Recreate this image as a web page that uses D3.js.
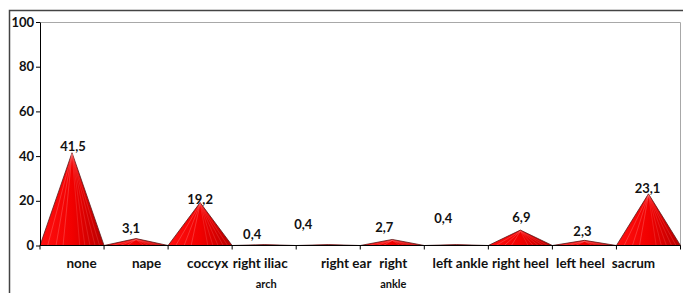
<!DOCTYPE html>
<html>
<head>
<meta charset="utf-8">
<script src="https://cdn.jsdelivr.net/npm/d3@7"></script>
<style>
  body { margin: 0; background: #fff; }
  svg { display: block; }
  text { font-family: Lato, "Open Sans", sans-serif; font-weight: bold; fill: #111; }
</style>
</head>
<body>
<svg id="chart" width="683" height="293"></svg>
<script>
// chart data
var categories = ['none', 'nape', 'coccyx', 'right iliac arch', 'right ear', 'right ankle', 'left ankle', 'right heel', 'left heel', 'sacrum'];
var values = [41.5, 3.1, 19.2, 0.4, 0.4, 2.7, 0.4, 6.9, 2.3, 23.1];
var yTicks = [0, 20, 40, 60, 80, 100];

// label nudges (the original puts some labels off-centre)
var nameShift = [9.5, 10.5, 7.5, -4, 18, 1, 4, 0, -4, -15];
var valueShiftX = [1, -5, 0, -12, -25, -8, -13, 1, -2, -1];
var valueShiftY = [-6, -10, -3, -10, -20, -12, -26, -13, -9, -5];

document.addEventListener("DOMContentLoaded", function() {
  var svg = d3.select('#chart');

  // outer frame (only top and left edges are visible)
  svg.append('path')
    .attr('d', 'M9.5,293V10.5H683')
    .attr('stroke', '#444')
    .attr('stroke-width', 1.5)
    .attr('fill', 'none');

  var left = 40, right = 680.5, top = 22, bottom = 245.5;

  var x = d3.scaleBand().domain(categories).range([left, right]).padding(0);
  var y = d3.scaleLinear().domain([0, 100]).range([bottom, top]);

  // plot area border
  svg.append('path')
    .attr('d', 'M' + left + ',' + (top + 0.5) + 'H' + right + 'V' + bottom)
    .attr('stroke', '#a8a8a8')
    .attr('fill', 'none');

  // gradient for the pyramids
  var defs = svg.append('defs');
  var grad = defs.append('linearGradient').attr('id', 'redGrad')
    .attr('x1', '0%').attr('x2', '100%').attr('y1', '0%').attr('y2', '0%');
  grad.append('stop').attr('offset', '0%').attr('stop-color', '#ff1010');
  grad.append('stop').attr('offset', '50%').attr('stop-color', '#f20000');
  grad.append('stop').attr('offset', '100%').attr('stop-color', '#b80000');

  // pyramids
  var groups = svg.selectAll('.pyr')
    .data(values)
    .enter()
    .append('g')
    .attr('class', 'pyr');

  groups.append('path')
    .attr('d', function(d, i) {
      var x0 = x(categories[i]), x1 = x0 + x.bandwidth(), xm = x0 + x.bandwidth() / 2;
      return 'M' + x0 + ',' + bottom + 'L' + xm + ',' + y(d) + 'L' + x1 + ',' + bottom + 'Z';
    })
    .attr('fill', 'url(#redGrad)')
    .attr('stroke', '#5a1a1a')
    .attr('stroke-width', 0.8);

  // faint facet lines from the apex
  var fan = [0.12, 0.25, 0.36, 0.62, 0.7, 0.78, 0.86, 0.93];
  groups.each(function(d, i) {
    var g = d3.select(this);
    var x0 = x(categories[i]), xm = x0 + x.bandwidth() / 2;
    if (bottom - y(d) < 3) return;
    fan.forEach(function(f) {
      g.append('line')
        .attr('x1', xm).attr('y1', y(d) + 1)
        .attr('x2', x0 + f * x.bandwidth()).attr('y2', bottom)
        .attr('stroke', f < 0.5 ? 'rgba(255,190,190,0.35)' : 'rgba(255,120,120,0.35)')
        .attr('stroke-width', 0.7);
    });
  });

  // y axis
  var yAxis = svg.append('g')
    .attr('transform', 'translate(' + left + ',0)')
    .call(d3.axisLeft(y).tickValues(yTicks).tickSize(4).tickSizeOuter(0));
  yAxis.select('.domain').attr('stroke', '#000');
  yAxis.selectAll('.tick line').attr('stroke', '#000');
  yAxis.selectAll('.tick text')
    .attr('x', -6)
    .attr('font-size', 13)
    .attr('font-family', 'Lato, sans-serif')
    .attr('font-weight', 'bold')
    .attr('fill', '#111');

  // x axis line and band ticks
  svg.append('line')
    .attr('x1', left).attr('x2', right)
    .attr('y1', bottom).attr('y2', bottom)
    .attr('stroke', '#000');
  var edges = categories.map(function(c) { return x(c); }).concat([right]);
  svg.selectAll('.xtick')
    .data(edges)
    .enter()
    .append('line')
    .attr('x1', function(d) { return d; }).attr('x2', function(d) { return d; })
    .attr('y1', bottom).attr('y2', bottom + 4)
    .attr('stroke', '#000');

  // category names (two lines where the original wraps)
  categories.forEach(function(c, i) {
    var cx = x(c) + x.bandwidth() / 2 + nameShift[i];
    var first = c, second = null;
    if (c === 'right iliac arch') { first = 'right iliac'; second = 'arch'; }
    if (c === 'right ankle') { first = 'right'; second = 'ankle'; }
    svg.append('text')
      .attr('x', cx).attr('y', 268)
      .attr('text-anchor', 'middle')
      .attr('font-size', 13.5)
      .text(first);
    if (second) {
      svg.append('text')
        .attr('x', x(c) + x.bandwidth() / 2 + (c === 'right ankle' ? 1 : 2)).attr('y', 288)
        .attr('text-anchor', 'middle')
        .attr('font-size', 11)
        .attr('font-weight', 'normal')
        .text(second);
    }
  });

  // value labels
  svg.selectAll('.val')
    .data(values)
    .enter()
    .append('text')
    .attr('class', 'val')
    .attr('x', function(d, i) { return x(categories[i]) + x.bandwidth() / 2 + valueShiftX[i]; })
    .attr('y', function(d, i) { return y(d) + valueShiftY[i] + 4.5; })
    .attr('text-anchor', 'middle')
    .attr('font-size', 13)
    .text(function(d) { return String(d).replace('.', ','); });
});
</script>
</body>
</html>
